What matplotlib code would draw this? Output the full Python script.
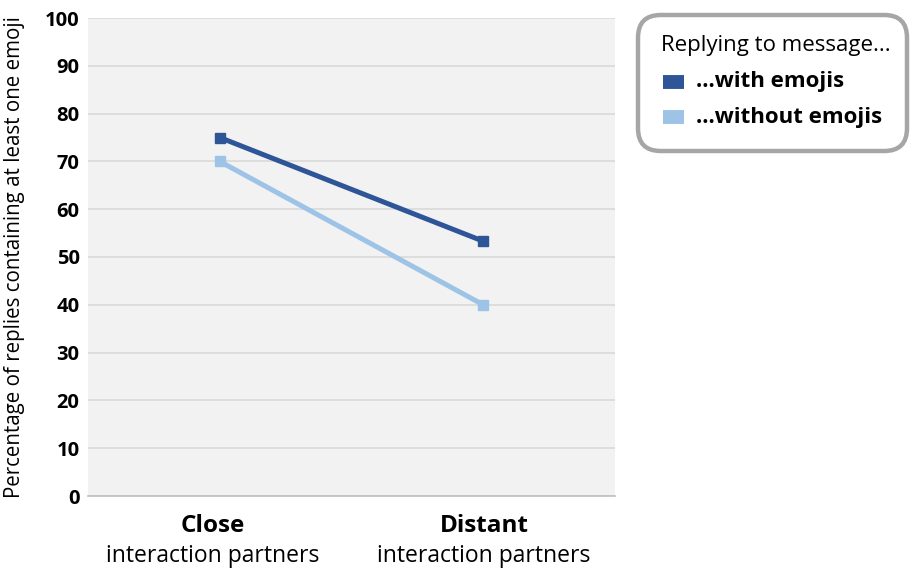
import numpy as np
import matplotlib.pyplot as plt
from matplotlib.patches import FancyBboxPatch
from matplotlib.lines import Line2D

plt.rcParams['font.family'] = ['Open Sans', 'DejaVu Sans']

# data
categories = ["Close", "Distant"]
subtitle = "interaction partners"
with_emojis = [75, 53.3]
without_emojis = [70, 40]
yticks = np.arange(0, 101, 10)

dark = "#2d5597"
light = "#9dc3e6"

fig = plt.figure(figsize=(9.1, 5.68), dpi=100)
W, H = 910, 568
ax = fig.add_axes([88 / W, 1 - 496 / H, 527 / W, 478 / H])
ax.set_facecolor("#f2f2f2")

x = np.arange(len(categories))
ax.plot(x, without_emojis, color=light, lw=3.6, marker="s", ms=7.5, zorder=3)
ax.plot(x, with_emojis, color=dark, lw=3.6, marker="s", ms=7.5, zorder=4)

ax.set_xlim(-0.5, 1.5)
ax.set_ylim(0, 100)
ax.set_yticks(yticks)
ax.set_yticklabels([str(v) for v in yticks], fontsize=14.5, fontweight="bold")
ax.yaxis.grid(True, color="#d9d9d9", lw=1.2)
ax.set_axisbelow(True)
ax.tick_params(axis="y", length=0, pad=6)
ax.tick_params(axis="x", length=0)
ax.set_xticks(x)
ax.set_xticklabels([])
for s in ["top", "right", "left"]:
    ax.spines[s].set_visible(False)
ax.spines["bottom"].set_color("#bfbfbf")
ax.spines["bottom"].set_linewidth(1.2)

# two-line category labels: bold name + regular subtitle
label_shift = [-0.026, 0.003]
for xi, name, dx in zip(x, categories, label_shift):
    ax.text(xi + dx, -6.3, name, ha="center", va="center", fontsize=17.5, fontweight="bold")
    ax.text(xi + dx, -12.6, subtitle, ha="center", va="center", fontsize=16.5)

ax.set_ylabel("Percentage of replies containing at least one emoji", fontsize=14.8)
ax.yaxis.set_label_coords(-63 / 527, 0.5)

# legend box
box = FancyBboxPatch((638 / W, 1 - 151 / H), 269 / W, 136 / H,
                     boxstyle="round,pad=0,rounding_size=0.025",
                     transform=fig.transFigure, facecolor="white", edgecolor="#a6a6a6",
                     lw=3.2, mutation_aspect=1.6)
fig.patches.append(box)
fig.text(661 / W, 1 - 46 / H, "Replying to message...", fontsize=16, va="center")
for i, (lab, col) in enumerate([("...with emojis", dark), ("...without emojis", light)]):
    yy = 1 - (82 + i * 35) / H
    fig.add_artist(Line2D([663 / W, 684 / W], [yy, yy], color=col, lw=10, solid_capstyle="butt",
                          transform=fig.transFigure))
    fig.text(696 / W, yy, lab, fontsize=16, fontweight="bold", va="center")

fig.savefig("out.png", dpi=100)
